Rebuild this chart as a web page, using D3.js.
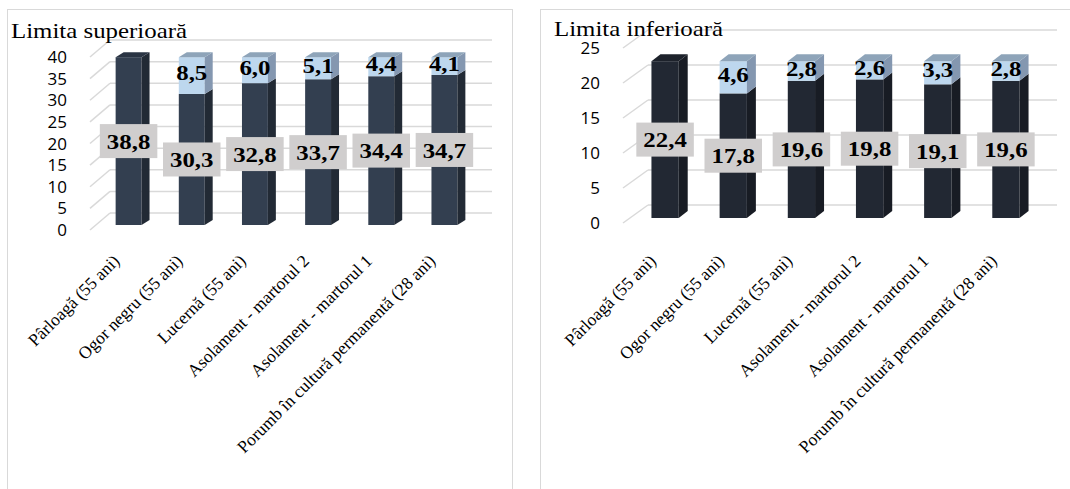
<!DOCTYPE html>
<html>
<head>
<meta charset="utf-8">
<script src="https://cdn.jsdelivr.net/npm/d3@7/dist/d3.min.js"></script>
<style>
  body { margin: 0; background: #fff; }
</style>
</head>
<body>
<svg id="chart" width="1070" height="489"></svg>
<script>
// data
const categories = [
  'Pârloagă (55 ani)',
  'Ogor negru (55 ani)',
  'Lucernă (55 ani)',
  'Asolament - martorul 2',
  'Asolament - martorul 1',
  'Porumb în cultură permanentă (28 ani)'
];
const upperBase = [38.8, 30.3, 32.8, 33.7, 34.4, 34.7];
const upperAdd = [0, 8.5, 6.0, 5.1, 4.4, 4.1];
const lowerBase = [22.4, 17.8, 19.6, 19.8, 19.1, 19.6];
const lowerAdd = [0, 4.6, 2.8, 2.6, 3.3, 2.8];
const upperTicks = [0, 5, 10, 15, 20, 25, 30, 35, 40];
const lowerTicks = [0, 5, 10, 15, 20, 25];

const svg = d3.select('#chart');
const fmt = v => d3.format('.1f')(v).replace('.', ',');
const serif = '"Liberation Serif", "Times New Roman", serif';
const stretch = 1.13;

function drawChart(cfg) {
  const g = svg.append('g');

  // panel frame
  g.append('rect')
    .attr('x', cfg.panel[0] + 0.5).attr('y', 9.5)
    .attr('width', cfg.panel[1]).attr('height', 520)
    .attr('fill', '#fff').attr('stroke', '#d9d9d9');

  const x = d3.scaleBand()
    .domain(categories)
    .range(cfg.xRange)
    .paddingInner(cfg.pad)
    .paddingOuter(cfg.pad / 2);

  const y = d3.scaleLinear()
    .domain([0, d3.max(cfg.ticks)])
    .range(cfg.yRange);

  const wall = cfg.wall;   // [dx, dy] depth of the side wall
  const depth = cfg.depth; // [dx, dy] depth of the bars
  const grid = '#d9d9d9';

  // back wall grid + side wall slants
  const gridG = g.append('g');
  gridG.selectAll('line.back')
    .data(cfg.ticks)
    .join('line')
    .attr('x1', cfg.wallX + wall[0]).attr('x2', cfg.gridEnd)
    .attr('y1', d => y(d) + wall[1]).attr('y2', d => y(d) + wall[1])
    .attr('stroke', grid).attr('stroke-width', 1.5);
  gridG.selectAll('line.side')
    .data(cfg.ticks)
    .join('line')
    .attr('x1', cfg.wallX).attr('x2', cfg.wallX + wall[0])
    .attr('y1', d => y(d)).attr('y2', d => y(d) + wall[1])
    .attr('stroke', grid).attr('stroke-width', 1.5);

  // y tick labels
  g.selectAll('text.tick')
    .data(cfg.ticks)
    .join('text')
    .attr('x', cfg.wallX - 23)
    .attr('y', d => y(d))
    .attr('dy', '0.36em')
    .attr('text-anchor', 'end')
    .attr('font-family', '"Open Sans", "Noto Sans", sans-serif')
    .attr('font-size', 17)
    .attr('fill', '#000')
    .text(d => d);

  // bars
  const bw = x.bandwidth();
  const yb = v => y(v) - cfg.barLift;
  categories.forEach((c, i) => {
    const x0 = x(c);
    const segs = [
      { v0: 0, v1: cfg.base[i], col: cfg.dark },
      { v0: cfg.base[i], v1: cfg.base[i] + cfg.add[i], col: cfg.light }
    ].filter(s => s.v1 > s.v0);
    segs.forEach((s, k) => {
      const b = yb(s.v0), t = yb(s.v1);
      g.append('rect')
        .attr('x', x0).attr('y', t)
        .attr('width', bw).attr('height', b - t)
        .attr('fill', s.col.front);
      g.append('polygon')
        .attr('points', [
          [x0 + bw, b], [x0 + bw + depth[0], b + depth[1]],
          [x0 + bw + depth[0], t + depth[1]], [x0 + bw, t]
        ].join(' '))
        .attr('fill', s.col.side);
      if (k === segs.length - 1) {
        g.append('polygon')
          .attr('points', [
            [x0, t], [x0 + depth[0], t + depth[1]],
            [x0 + bw + depth[0], t + depth[1]], [x0 + bw, t]
          ].join(' '))
          .attr('fill', s.col.top);
      }
    });
  });

  // data labels: lower segment in grey boxes
  categories.forEach((c, i) => {
    const cx = x(c) + bw / 2;
    const cy = yb(cfg.base[i] / 2);
    const lg = g.append('g').attr('transform', `translate(${cx},${cy})`);
    const box = lg.append('rect').attr('fill', '#d0cece');
    const t = lg.append('text')
      .attr('transform', `scale(${stretch},1)`)
      .attr('text-anchor', 'middle')
      .attr('dy', '0.35em')
      .attr('font-family', serif)
      .attr('font-weight', 'bold')
      .attr('font-size', 22)
      .attr('fill', '#000')
      .text(fmt(cfg.base[i]));
    const w = t.node().getComputedTextLength() * stretch + 14;
    box.attr('x', -w / 2).attr('y', -17).attr('width', w).attr('height', 34);

    if (cfg.add[i] > 0) {
      const cy2 = yb(cfg.base[i] + cfg.add[i] / 2) - 3;
      g.append('text')
        .attr('transform', `translate(${cx},${cy2}) scale(${stretch},1)`)
        .attr('text-anchor', 'middle')
        .attr('dy', '0.35em')
        .attr('font-family', serif)
        .attr('font-weight', 'bold')
        .attr('font-size', 22)
        .attr('fill', '#000')
        .text(fmt(cfg.add[i]));
    }
  });

  // category labels
  g.selectAll('text.cat')
    .data(categories)
    .join('text')
    .attr('transform', d => `translate(${x(d) + bw / 2 - 8},${cfg.labelY}) rotate(-45)`)
    .attr('text-anchor', 'end')
    .attr('font-family', serif)
    .attr('font-size', 17.5)
    .attr('fill', '#000')
    .text(d => d);

  // title
  g.append('text')
    .attr('transform', `translate(${cfg.titlePos[0]},${cfg.titlePos[1]}) scale(${stretch},1)`)
    .attr('font-family', serif)
    .attr('font-size', 22)
    .attr('fill', '#000')
    .text(cfg.title);
}

drawChart({
  title: 'Limita superioară',
  titlePos: [11, 38],
  panel: [7, 505],
  base: upperBase,
  add: upperAdd,
  ticks: upperTicks,
  xRange: [97, 476],
  pad: 0.59,
  yRange: [230, 57],
  wallX: 90,
  wall: [20, -17],
  gridEnd: 492,
  depth: [8, -5],
  barLift: 5,
  labelY: 262,
  dark: { front: '#333f50', side: '#222a35', top: '#2a3443' },
  light: { front: '#bdd7ee', side: '#8497b0', top: '#8ea4b9' }
});

drawChart({
  title: 'Limita inferioară',
  titlePos: [554, 36],
  panel: [540, 560],
  base: lowerBase,
  add: lowerAdd,
  ticks: lowerTicks,
  xRange: [631, 1040],
  pad: 0.6,
  yRange: [223, 48],
  wallX: 623,
  wall: [25, -18],
  gridEnd: 1057,
  depth: [9, -7],
  barLift: 5,
  labelY: 262,
  dark: { front: '#222833', side: '#181c24', top: '#1d222b' },
  light: { front: '#bdd7ee', side: '#8497b0', top: '#8ea4b9' }
});
</script>
</body>
</html>
